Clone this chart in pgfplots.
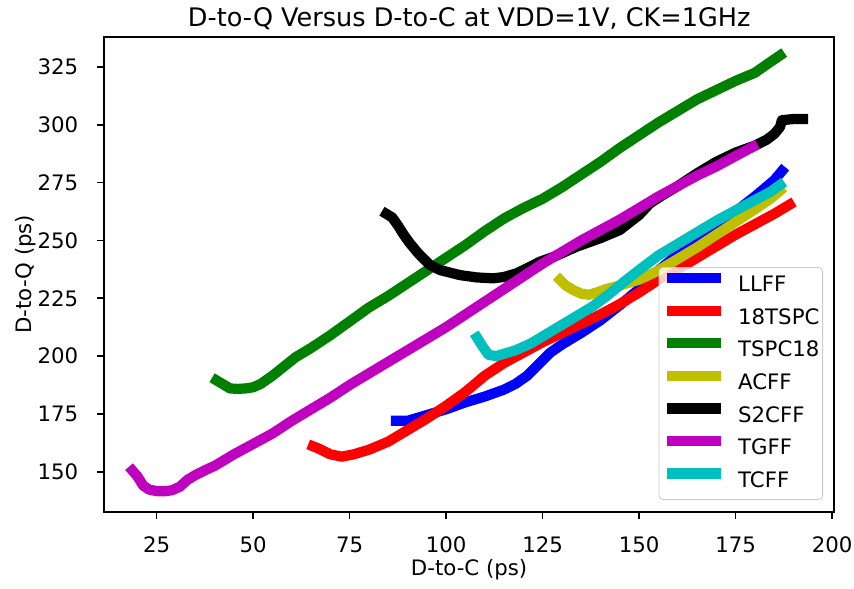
\documentclass[border=0pt]{standalone}
\usepackage{pgfplots}
\pgfplotsset{compat=1.18}
\usepackage{fontspec}
\setmainfont{DejaVu Sans}
\definecolor{mb}{rgb}{0,0,1}
\definecolor{mr}{rgb}{1,0,0}
\definecolor{mg}{rgb}{0,0.5,0}
\definecolor{my}{rgb}{0.75,0.75,0}
\definecolor{mk}{rgb}{0,0,0}
\definecolor{mm}{rgb}{0.75,0,0.75}
\definecolor{mc}{rgb}{0,0.75,0.75}
\begin{document}
\begin{tikzpicture}
\begin{axis}[
  name=ax,
  scale only axis,
  width=342.96pt, height=223.25pt,
  xmin=11.43, xmax=200.5, ymin=132.7, ymax=338.1,
  xtick={25,50,...,200}, ytick={150,175,...,325},
  xtick pos=bottom, ytick pos=left, tick align=outside,
  major tick length=3.43pt,
  every tick/.style={black, line width=0.78pt},
  axis line style={black, line width=0.78pt},
  /pgf/number format/assume math mode=true,
  ticklabel style={font=\fontsize{10}{12}\selectfont},
  xticklabel style={anchor=base, inner sep=0pt, yshift=-15.65pt},
  yticklabel style={anchor=east, inner sep=0pt, xshift=-8.6pt},
  title={D-to-Q Versus D-to-C at VDD=1V, CK=1GHz},
  title style={at={(axis description cs:0.5,1.0211)}, anchor=base, font=\fontsize{12}{14}\selectfont, inner sep=0pt, yshift=-6pt},
  xlabel={D-to-C (ps)},
  xlabel style={at={(axis description cs:0.5,-0.1333)}, anchor=base, font=\fontsize{10}{12}\selectfont, inner sep=0pt},
  ylabel={D-to-Q (ps)},
  ylabel style={at={(axis description cs:-0.0995,0.5)}, anchor=base, font=\fontsize{10}{12}\selectfont, inner sep=0pt},
  legend style={at={(0.985,0.0246)}, anchor=south east, draw=black!20, rounded corners=2pt,
    fill=white, fill opacity=0.8, text opacity=1, font=\fontsize{10}{12}\selectfont,
    inner xsep=1.5pt, inner ysep=1pt, row sep=0pt,
    nodes={inner xsep=0pt, inner ysep=2.85pt, text height=7.6pt, text depth=2pt},
    /tikz/every odd column/.append style={column sep=5.5pt}},
  legend cell align=left,
  legend image code/.code={\draw[#1, line width=4.8pt, line cap=butt] (0pt,3.6pt) -- (25.4pt,3.6pt);},
  every axis plot/.append style={line width=4.8pt, line join=round, line cap=rect, mark=none},
]
% LLFF
\addplot[color=mb] coordinates {(87,172) (90,172) (95,174.5) (100,177) (105,180) (110,182.5) (115,185.5) (118,188) (121,191.5) (124,196.5) (127,201.5) (130,205) (135,210) (140,215.5) (145,222) (150,229) (155,237) (160,244) (165,250) (170,256) (175,262.5) (180,269) (185,276) (187,280)};
\addlegendentry{LLFF}
% 18TSPC
\addplot[color=mr] coordinates {(65.5,161) (67,160) (70,157.5) (73,156.5) (76,157.5) (80,159.5) (85,163) (90,168) (95,173) (100,178.5) (105,184.5) (110,191.5) (115,197) (120,201.5) (125,206) (130,210) (135,214) (140,218) (145,222.5) (150,227.5) (155,233) (160,237.5) (165,242.5) (170,247.5) (175,252.5) (180,257) (185,261.5) (189,265.5)};
\addlegendentry{18TSPC}
% TSPC18
\addplot[color=mg] coordinates {(40.5,189.5) (42,188) (44,186) (46,185.8) (48,186) (50,186.5) (52,188) (55,191.5) (58,195.5) (61,199.5) (65,203.5) (70,209) (75,215) (80,221) (85,226) (90,231.5) (95,237) (100,242.5) (105,248) (110,254) (115,259.5) (120,264) (125,268) (130,273) (135,278.5) (140,284) (145,290) (150,295.5) (155,301) (160,306) (165,311) (170,315) (175,319) (180,322.5) (183,326) (186.5,330)};
\addlegendentry{TSPC18}
% ACFF
\addplot[color=my] coordinates {(129.5,233) (131,230.5) (133,228.5) (135,227) (137,226.5) (139,227.5) (141.5,229) (145,230.5) (150,233) (155,237) (160,242) (165,247) (170,252.5) (175,258) (180,263.5) (184,268) (186.5,271.5)};
\addlegendentry{ACFF}
% S2CFF
\addplot[color=mk] coordinates {(84.5,261.5) (86,260) (87.5,256.5) (89,252.5) (90.6,248.8) (93,244) (95.8,239.4) (98.4,237.2) (103.6,235) (108,234) (112.2,233.6) (115,234.2) (118.3,235.8) (121,238) (124.3,240.8) (128,243) (133.8,247.3) (140,251) (145,254.5) (150,261) (152.8,266) (156,269.5) (160,273.5) (165,279) (170,284) (175,288) (180,291) (183,293.5) (185,296) (186.5,299) (187,302) (190,302.5) (192.5,302.5)};
\addlegendentry{S2CFF}
% TGFF
\addplot[color=mm] coordinates {(18.7,150.5) (20,148) (21.5,144) (23,142.3) (25,141.6) (27,141.5) (29,142) (31,143.5) (33,146.5) (35,148.5) (38,151) (40,152.5) (45,157.5) (50,162) (55,166.5) (60,172) (65,177) (70,182) (75,187.5) (80,192.5) (85,197.5) (90,202.5) (95,207.5) (100,212.5) (105,218) (110,223.5) (115,229) (120,234.5) (125,240) (130,245) (135,250) (140,254.5) (145,259) (150,264) (155,269) (160,273.5) (165,278) (170,282) (175,286.5) (179.5,290.5)};
\addlegendentry{TGFF}
% TCFF
\addplot[color=mc] coordinates {(108,208) (109.5,204) (111,200.5) (113,200) (115,201) (118,202.5) (122,205.5) (126,209.5) (130,213.5) (134,217.5) (138,221.5) (142,226.5) (146,232) (151,238.5) (155,243.5) (160,248.5) (165,253.5) (170,258.5) (175,263) (180,267.5) (184,271) (186.5,274)};
\addlegendentry{TCFF}
\end{axis}
\path ([shift={(-49.02pt,-35.86pt)}]ax.south west) rectangle ([shift={(9.4pt,17.25pt)}]ax.north east);
\end{tikzpicture}
\end{document}
